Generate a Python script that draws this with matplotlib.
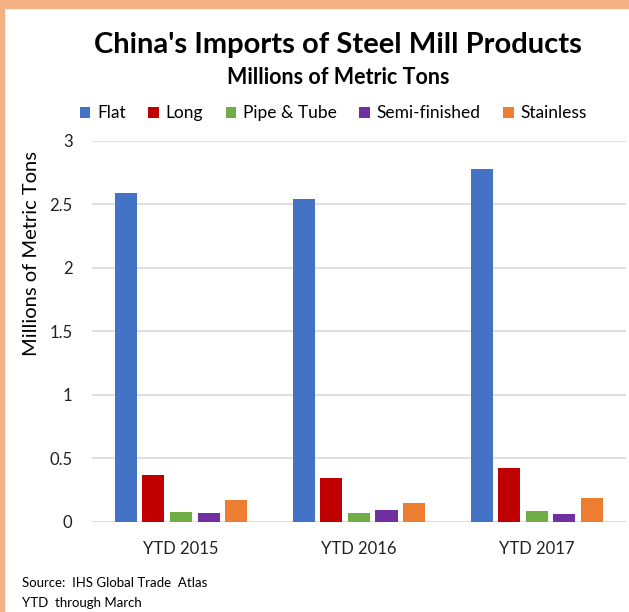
import matplotlib.pyplot as plt
from matplotlib.patches import Rectangle
import numpy as np

# datos
anios = ["YTD 2015", "YTD 2016", "YTD 2017"]
productos = ["Flat", "Long", "Pipe & Tube", "Semi-finished", "Stainless"]
flat = [2.59, 2.54, 2.78]
long_ = [0.37, 0.345, 0.42]
pipe = [0.08, 0.07, 0.083]
semi = [0.068, 0.095, 0.057]
stainless = [0.172, 0.15, 0.187]
series = [flat, long_, pipe, semi, stainless]
colores = ["#4472C4", "#C00000", "#70AD47", "#7030A0", "#ED7D31"]

plt.rcParams['font.family'] = ['Lato', 'DejaVu Sans']

fig = plt.figure(figsize=(6.29, 6.12), dpi=100)
ax = fig.add_axes([0.1463, 0.1475, 0.8487, 0.6225])

# borde naranja
fig.patches.append(Rectangle((0, 0), 0.007, 1, transform=fig.transFigure, color="#F4B183", zorder=0))
fig.patches.append(Rectangle((0, 0.987), 1, 0.013, transform=fig.transFigure, color="#F4B183", zorder=0))

posiciones = np.arange(len(anios))
ancho = 0.124
paso = 0.155
for i, (valores, nombre) in enumerate(zip(series, productos)):
    ax.bar(posiciones + (i - 2) * paso, valores, width=ancho, color=colores[i], label=nombre, zorder=3)

ax.set_xlim(-0.5, 2.5)
ax.set_ylim(0, 3)
ax.set_yticks([0, 0.5, 1, 1.5, 2, 2.5, 3])
ax.set_yticklabels(["0", "0.5", "1", "1.5", "2", "2.5", "3"])
ax.set_xticks(posiciones)
ax.set_xticklabels(anios)
ax.tick_params(axis='both', length=0, labelsize=12, colors="#222222")
ax.tick_params(axis='x', pad=14)
ax.tick_params(axis='y', pad=14)
ax.yaxis.grid(True, color="#d9d9d9", linewidth=1.2, zorder=0)
ax.set_axisbelow(True)
for s in ax.spines.values():
    s.set_visible(False)
ax.set_ylabel("Millions of Metric Tons", fontsize=14.5)
ax.yaxis.set_label_coords(-0.097, 0.705)

fig.text(0.537, 0.926, "China's Imports of Steel Mill Products", ha='center', va='center',
         fontsize=21, fontweight='bold')
fig.text(0.537, 0.873, "Millions of Metric Tons", ha='center', va='center',
         fontsize=15.5, fontweight='bold')
fig.legend(loc='center', bbox_to_anchor=(0.530, 0.815), ncol=5, frameon=False, fontsize=12.5,
           handlelength=0.6, handleheight=0.6, handletextpad=0.4, columnspacing=1.3)

fig.text(0.035, 0.047, "Source:  IHS Global Trade  Atlas", fontsize=9.5, va='center')
fig.text(0.035, 0.014, "YTD  through March", fontsize=9.5, va='center')

fig.savefig("out.png", dpi=100)
